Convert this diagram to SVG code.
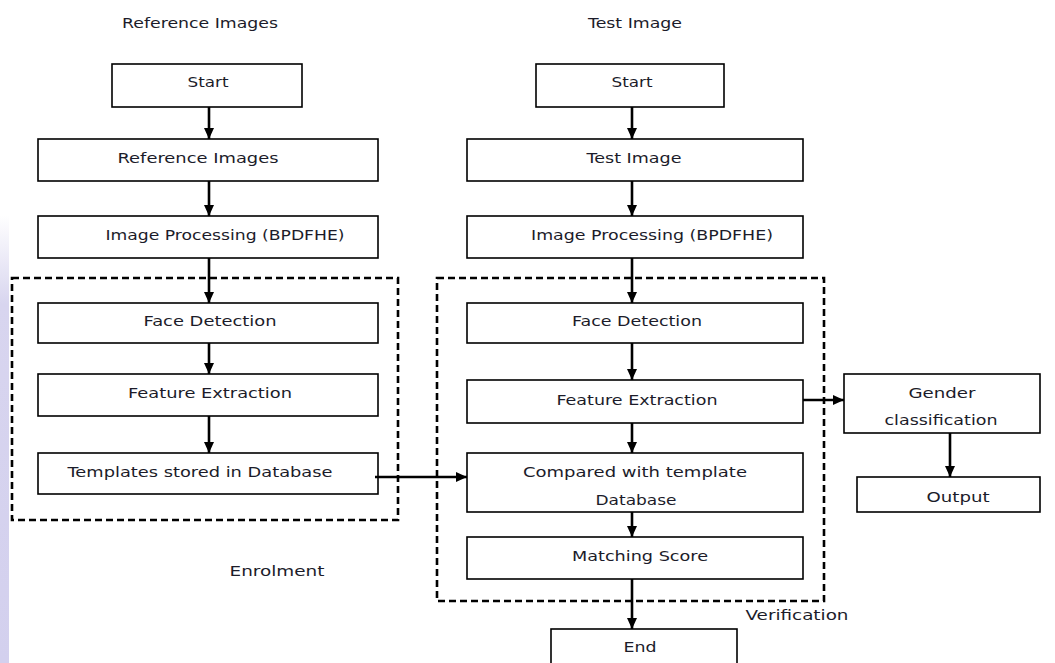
<svg xmlns="http://www.w3.org/2000/svg" width="1055" height="663" viewBox="0 0 1055 663">
<defs>
<linearGradient id="strip" x1="0" y1="0" x2="0" y2="1">
<stop offset="0" stop-color="#ffffff"/>
<stop offset="0.2" stop-color="#d8d5ef"/>
<stop offset="1" stop-color="#d3d0ee"/>
</linearGradient>
<marker id="ah" markerUnits="userSpaceOnUse" markerWidth="12" markerHeight="12" viewBox="0 0 12 12" refX="11" refY="6" orient="auto">
<path d="M0,1 L11,6 L0,11 Z" fill="#000"/>
</marker>
</defs>
<style>
.box{fill:#fff;stroke:#000;stroke-width:1.6}
.dash{fill:none;stroke:#000;stroke-width:2.6;stroke-dasharray:7 4}
.t{font-family:"DejaVu Sans","Liberation Sans",sans-serif;font-size:14.5px;fill:#1c1c2a;text-anchor:middle;dominant-baseline:central}
.c{stroke:#000;stroke-width:2.6;fill:none;marker-end:url(#ah)}
</style>
<rect width="1055" height="663" fill="#fff"/>
<rect x="0" y="215" width="9" height="448" fill="url(#strip)"/>

<g id="labels">
<text class="t" x="200" y="23" textLength="156" lengthAdjust="spacingAndGlyphs">Reference Images</text>
<text class="t" x="635" y="23" textLength="94" lengthAdjust="spacingAndGlyphs">Test Image</text>
<text class="t" x="277" y="571" textLength="95" lengthAdjust="spacingAndGlyphs">Enrolment</text>
<text class="t" x="797" y="615" textLength="103" lengthAdjust="spacingAndGlyphs">Verification</text>
</g>

<g id="enrolment-group"><rect class="dash" x="12" y="278" width="386" height="242"/></g>
<g id="verification-group"><rect class="dash" x="437" y="278" width="387" height="323"/></g>

<g id="l-start"><rect class="box" x="112" y="64" width="190" height="43"/><text class="t" x="208" y="82" textLength="41" lengthAdjust="spacingAndGlyphs">Start</text></g>
<g id="l-refimg"><rect class="box" x="38" y="139" width="340" height="42"/><text class="t" x="198" y="158" textLength="161" lengthAdjust="spacingAndGlyphs">Reference Images</text></g>
<g id="l-imgproc"><rect class="box" x="38" y="216" width="340" height="42"/><text class="t" x="225" y="235" textLength="239" lengthAdjust="spacingAndGlyphs">Image Processing (BPDFHE)</text></g>
<g id="l-face"><rect class="box" x="38" y="303" width="340" height="40"/><text class="t" x="210" y="321" textLength="133" lengthAdjust="spacingAndGlyphs">Face Detection</text></g>
<g id="l-feat"><rect class="box" x="38" y="374" width="340" height="42"/><text class="t" x="210" y="393" textLength="164" lengthAdjust="spacingAndGlyphs">Feature Extraction</text></g>
<g id="l-templates"><rect class="box" x="38" y="453" width="340" height="41"/><text class="t" x="200" y="472" textLength="265" lengthAdjust="spacingAndGlyphs">Templates stored in Database</text></g>

<g id="r-start"><rect class="box" x="536" y="64" width="188" height="43"/><text class="t" x="632" y="82" textLength="41" lengthAdjust="spacingAndGlyphs">Start</text></g>
<g id="r-testimg"><rect class="box" x="467" y="139" width="336" height="42"/><text class="t" x="634" y="158" textLength="95" lengthAdjust="spacingAndGlyphs">Test Image</text></g>
<g id="r-imgproc"><rect class="box" x="467" y="216" width="336" height="42"/><text class="t" x="652" y="235" textLength="242" lengthAdjust="spacingAndGlyphs">Image Processing (BPDFHE)</text></g>
<g id="r-face"><rect class="box" x="467" y="303" width="336" height="40"/><text class="t" x="637" y="321" textLength="130" lengthAdjust="spacingAndGlyphs">Face Detection</text></g>
<g id="r-feat"><rect class="box" x="467" y="380" width="336" height="43"/><text class="t" x="637" y="400" textLength="161" lengthAdjust="spacingAndGlyphs">Feature Extraction</text></g>
<g id="r-compare"><rect class="box" x="467" y="453" width="336" height="59"/><text class="t" x="635" y="472" textLength="224" lengthAdjust="spacingAndGlyphs">Compared  with template</text><text class="t" x="636" y="500" textLength="81" lengthAdjust="spacingAndGlyphs">Database</text></g>
<g id="r-match"><rect class="box" x="467" y="537" width="336" height="42"/><text class="t" x="640" y="556" textLength="136" lengthAdjust="spacingAndGlyphs">Matching Score</text></g>
<g id="r-end"><rect class="box" x="551" y="629" width="186" height="40"/><text class="t" x="640" y="647" textLength="33" lengthAdjust="spacingAndGlyphs">End</text></g>
<g id="gender"><rect class="box" x="844" y="374" width="196" height="59"/><text class="t" x="942" y="393" textLength="67" lengthAdjust="spacingAndGlyphs">Gender</text><text class="t" x="941" y="420" textLength="113" lengthAdjust="spacingAndGlyphs">classification</text></g>
<g id="output"><rect class="box" x="857" y="477" width="183" height="35"/><text class="t" x="958" y="497" textLength="63" lengthAdjust="spacingAndGlyphs">Output</text></g>

<g id="connectors">
<line class="c" x1="209" y1="107" x2="209" y2="139"/>
<line class="c" x1="209" y1="181" x2="209" y2="216"/>
<line class="c" x1="209" y1="258" x2="209" y2="303"/>
<line class="c" x1="209" y1="343" x2="209" y2="374"/>
<line class="c" x1="209" y1="416" x2="209" y2="453"/>
<line class="c" x1="375" y1="477" x2="467" y2="477"/>
<line class="c" x1="632" y1="107" x2="632" y2="139"/>
<line class="c" x1="632" y1="181" x2="632" y2="216"/>
<line class="c" x1="632" y1="258" x2="632" y2="303"/>
<line class="c" x1="632" y1="343" x2="632" y2="380"/>
<line class="c" x1="632" y1="423" x2="632" y2="453"/>
<line class="c" x1="632" y1="512" x2="632" y2="537"/>
<line class="c" x1="632" y1="579" x2="632" y2="629"/>
<line class="c" x1="803" y1="400" x2="844" y2="400"/>
<line class="c" x1="950" y1="433" x2="950" y2="477"/>
</g>
</svg>
